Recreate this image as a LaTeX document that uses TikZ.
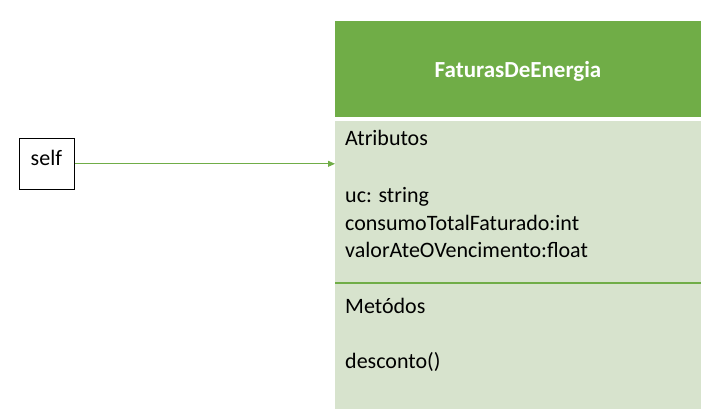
\documentclass[tikz,border=0pt]{standalone}
\usepackage{fontspec}
\setmainfont{Carlito}
\usetikzlibrary{arrows.meta}
\definecolor{hdrgreen}{HTML}{70AD47}
\definecolor{lightgreen}{HTML}{D7E3CD}
\tikzset{
  txt/.style={anchor=base west, inner sep=0pt, font=\fontsize{22}{26}\selectfont, text=black},
  panel/.style={fill=lightgreen, draw=none, anchor=north west, inner sep=0pt, minimum width=366pt},
  conn/.style={draw=hdrgreen, line width=0.8pt, -{Triangle[length=7pt,width=6pt]}}
}
\begin{document}
\begin{tikzpicture}[x=1pt,y=-1pt]
\useasboundingbox (0,0) rectangle (714,418);
% header
\node[fill=hdrgreen, draw=none, anchor=north west, inner sep=0pt, minimum width=366pt, minimum height=96pt] (hdr) at (335,21) {};
\node[font=\bfseries\fontsize{23}{27}\selectfont, text=white, inner sep=0pt] (title) at (518,71) {FaturasDeEnergia};
% panels
\node[panel, minimum height=162pt] (attrs) at (335,121) {};
\node[panel, minimum height=126pt] (meths) at (335,283) {};
\draw[hdrgreen, line width=2pt] (attrs.south west) -- (attrs.south east);
% texts
\node[txt] (t1) at (345,145) {Atributos};
\node[txt] (t2) at (345,202.5) {uc: string};
\node[txt] (t3) at (345,230) {consumoTotalFaturado:int};
\node[txt] (t4) at (345,257.5) {valorAteOVencimento:float};
\node[txt] (t5) at (345,313) {Metódos};
\node[txt] (t6) at (345,368.5) {desconto()};
% self box
\node[draw=black, line width=0.8pt, fill=white, minimum width=55pt, minimum height=51pt, inner sep=0pt] (self) at (47,163.8) {};
\node[txt] (selftxt) at (30.5,165) {self};
\draw[conn] (self.east) -- (self.east -| attrs.west);
\end{tikzpicture}
\end{document}
